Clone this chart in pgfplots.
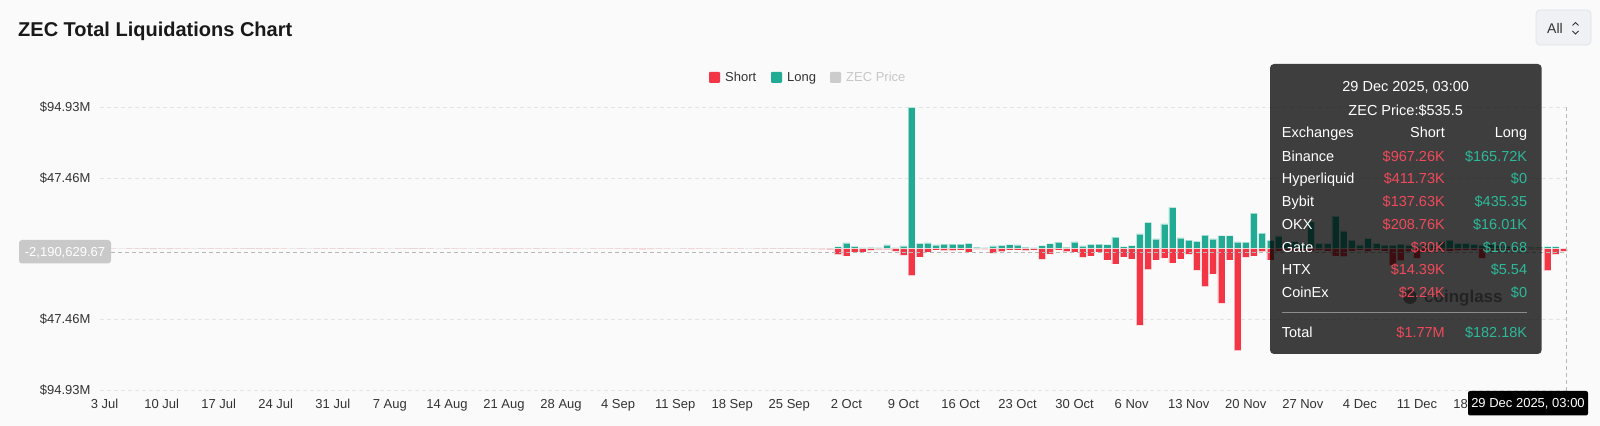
\documentclass[border=0pt]{standalone}
\usepackage{fontspec}
\setmainfont{Liberation Sans}
\usepackage{pgfplots}
\usepackage{pgfplotstable}
\pgfplotsset{compat=1.18}
\definecolor{bg}{HTML}{FAFAFA}
\definecolor{redc}{HTML}{F23645}
\definecolor{tealc}{HTML}{22AB94}
\definecolor{gridc}{HTML}{E4E4E4}
\definecolor{labc}{HTML}{333333}
\definecolor{cross}{HTML}{B8B8B8}
\definecolor{ttred}{HTML}{F04A5A}
\definecolor{ttgreen}{HTML}{2DB99A}
\definecolor{wm}{HTML}{8C8C8C}
\definecolor{btn}{HTML}{EFF1F4}
\definecolor{btnb}{HTML}{E0E3E8}
\newcommand\fs[1]{\fontsize{#1bp}{#1bp}\selectfont}

\pgfplotstableread{
d L S
0 0.10 0.15
1 0.05 0.10
2 0.10 0.05
3 0.15 0.10
4 0.20 0.10
5 0.35 0.20
6 0.30 0.35
7 0.25 0.20
8 0.30 0.25
9 0.10 0.10
10 0.05 0.10
11 0.10 0.05
12 0.10 0.10
13 0.15 0.10
14 0.10 0.10
15 0.05 0.10
16 0.10 0.15
17 0.15 0.10
18 0.30 0.20
19 0.35 0.15
20 0.25 0.30
21 0.10 0.10
22 0.05 0.10
23 0.10 0.05
24 0.10 0.10
25 0.15 0.05
26 0.10 0.10
27 0.10 0.15
28 0.20 0.10
29 0.40 0.20
30 0.15 0.10
31 0.05 0.10
32 0.10 0.05
33 0.10 0.10
34 0.05 0.10
35 0.10 0.05
36 0.10 0.10
37 0.15 0.10
38 0.35 0.15
39 0.30 0.20
40 0.10 0.10
41 0.10 0.05
42 0.30 0.15
43 0.10 0.10
44 0.05 0.10
45 0.10 0.05
46 0.10 0.10
47 0.05 0.15
48 0.10 0.20
49 0.15 0.40
50 0.10 0.35
51 0.10 0.10
52 0.05 0.10
53 0.30 0.15
54 0.10 0.10
55 0.05 0.10
56 0.10 0.05
57 0.10 0.10
58 0.05 0.10
59 0.10 0.05
60 0.10 0.10
61 0.05 0.10
62 0.10 0.10
63 0.10 0.15
64 0.15 0.30
65 0.10 0.25
66 0.10 0.45
67 0.15 0.30
68 0.10 0.10
69 0.05 0.10
70 0.10 0.05
71 0.10 0.15
72 0.15 0.35
73 0.10 0.10
74 0.05 0.10
75 0.10 0.05
76 0.10 0.10
77 0.05 0.10
78 0.10 0.10
79 0.10 0.05
80 0.15 0.10
81 0.40 0.15
82 0.35 0.10
83 0.30 0.15
84 0.35 0.10
85 0.10 0.10
86 0.10 0.15
87 0.15 0.25
88 0.20 0.50
89 0.30 0.60
90 1.3 4.0
91 3.8 4.9
92 1.6 2.2
93 0.7 2.2
94 0.9 1.1
95 0.45 0.7
96 2.5 0.7
97 0.7 1.8
98 1.8 4.5
99 94.93 18.2
100 3.6 5.6
101 3.8 2.2
102 2.5 0.9
103 3.1 1.3
104 3.1 1.3
105 3.1 0.9
106 3.6 2.2
107 1.1 0.45
108 0.7 0.45
109 1.8 3.1
110 2.2 2.0
111 2.7 0.9
112 2.5 0.9
113 1.1 1.3
114 0.7 0.9
115 2.0 7.2
116 3.4 3.6
117 4.3 0.9
118 1.1 2.0
119 4.5 2.2
120 1.8 5.8
121 2.9 4.9
122 3.1 2.2
123 2.7 7.6
124 7.8 10.3
125 1.3 5.6
126 2.0 6.9
127 9.9 51.5
128 17.7 14.1
129 6.5 7.6
130 16.6 6.3
131 27.8 9.6
132 7.2 6.9
133 5.8 3.8
134 4.9 14.6
135 9.0 25.5
136 6.5 17.0
137 8.7 36.7
138 8.7 7.6
139 4.5 68.5
140 4.3 5.8
141 23.8 4.9
142 10.4 2.0
143 5.5 7.6
144 8.5 1.5
145 4.7 1.0
146 4.7 1.5
147 3.6 1.2
148 18.1 2.0
149 3.6 1.0
150 3.6 1.5
151 21.9 4.9
152 12.0 5.4
153 5.8 1.5
154 2.5 1.0
155 6.9 2.0
156 3.6 1.0
157 2.3 1.5
158 2.3 11.0
159 3.1 8.0
160 2.5 2.0
161 1.3 6.5
162 2.9 1.5
163 2.5 1.0
164 4.7 1.2
165 5.8 1.5
166 3.6 1.3
167 3.6 1.0
168 2.9 1.2
169 2.5 6.5
170 2.9 1.0
171 2.2 1.3
172 1.8 1.0
173 1.5 1.2
174 1.3 0.8
175 1.0 0.7
176 1.0 0.7
177 1.3 14.8
178 1.3 3.8
179 0.18 1.77
}\data

\begin{document}
\begin{tikzpicture}
\useasboundingbox (0,0) rectangle (1600bp,426bp);
\fill[bg] (0,0) rectangle (1600bp,426bp);
\begin{scope}[x=1bp,y=-1bp,yshift=426bp]
  \fill[wm] (1410,297) circle (7);
  \node[font=\fs{17}\bfseries, text=wm, anchor=base west, inner sep=0pt] at (1424,303) {coinglass};
\end{scope}
\begin{axis}[
  at={(100bp,36bp)}, anchor=south west,
  width=1467bp, height=282.7bp, scale only axis,
  xmin=-0.56, xmax=179.4, ymin=-94.93, ymax=94.93,
  axis line style={draw=none},
  tick style={draw=none}, major tick length=0pt,
  ymajorgrids,
  grid style={dash pattern=on 4bp off 3bp, color=gridc, line width=0.8bp},
  ytick={-94.93,-47.46,0,47.46,94.93},
  yticklabels={\$94.93M,\$47.46M,\$0,\$47.46M,\$94.93M},
  xtick={0,7,...,168},
  xticklabels={3 Jul,10 Jul,17 Jul,24 Jul,31 Jul,7 Aug,14 Aug,21 Aug,28 Aug,4 Sep,11 Sep,18 Sep,25 Sep,2 Oct,9 Oct,16 Oct,23 Oct,30 Oct,6 Nov,13 Nov,20 Nov,27 Nov,4 Dec,11 Dec,18 Dec},
  ticklabel style={font=\fs{13}, text=labc},
  yticklabel style={anchor=base east, inner sep=0pt, xshift=-9.3bp, yshift=-4.6bp},
  xticklabel style={anchor=base, inner sep=0pt, yshift=-18bp},
  ybar, bar width=0.86, bar shift=0pt,
]
\addplot[fill=tealc, draw=white, draw opacity=0.55, line width=0.5bp] table[x=d, y=L]{\data};
\addplot[fill=redc, draw=white, draw opacity=0.55, line width=0.5bp] table[x=d, y expr=-\thisrow{S}]{\data};
\end{axis}
\begin{scope}[x=1bp,y=-1bp,yshift=426bp]
  % title
  \node[font=\fs{20}\bfseries, text=black!90, anchor=base west, inner sep=0pt] at (18,37) {ZEC Total Liquidations Chart};
  % All button
  \draw[btnb, fill=btn, rounded corners=4bp, line width=0.8bp] (1536,10) rectangle (1591,45);
  \node[font=\fs{14}, text=labc, anchor=base west, inner sep=0pt] at (1547,33.3) {All};
  \draw[labc, line width=0.9bp] (1572.5,25.5) -- (1575.5,22.5) -- (1578.5,25.5);
  \draw[labc, line width=0.9bp] (1572.5,31) -- (1575.5,34) -- (1578.5,31);
  % legend
  \fill[redc, rounded corners=1bp] (709,72) rectangle (720,83);
  \node[font=\fs{13}, text=labc, anchor=base west, inner sep=0pt] at (725,81.7) {Short};
  \fill[tealc, rounded corners=1bp] (771,72) rectangle (782,83);
  \node[font=\fs{13}, text=labc, anchor=base west, inner sep=0pt] at (787,81.7) {Long};
  \fill[black!20, rounded corners=1bp] (830,72) rectangle (841,83);
  \node[font=\fs{13}, text=black!22, anchor=base west, inner sep=0pt] at (846,81.7) {ZEC Price};
  % crosshair
  \draw[cross, dash pattern=on 4bp off 3bp, line width=0.9bp] (111,252) -- (1567,252);
  \draw[cross, dash pattern=on 4bp off 3bp, line width=0.9bp] (1566.7,107) -- (1566.7,391);
  \fill[black!21, rounded corners=3bp] (19,240) rectangle (111,263.5);
  \node[font=\fs{13}, text=white, anchor=base, inner sep=0pt] at (65,256.6) {-2,190,629.67};
  \fill[black, rounded corners=2bp] (1468,391) rectangle (1588,415.5);
  \node[font=\fs{13}, text=white, anchor=base, inner sep=0pt] at (1528,408) {29 Dec 2025, 03:00};
  % tooltip
  \fill[black, opacity=0.75, rounded corners=4bp] (1270,64) rectangle (1541.7,354);
  \begin{scope}[every node/.style={font=\fs{14.5}, inner sep=0pt}]
    \node[text=white, anchor=base] at (1405.7,91.9) {29 Dec 2025, 03:00};
    \node[text=white, anchor=base] at (1405.7,115.9) {ZEC Price:\$535.5};
    \node[text=white, anchor=base west] at (1281.7,137.9) {Exchanges};
    \node[text=white, anchor=base east] at (1445,137.9) {Short};
    \node[text=white, anchor=base east] at (1527.3,137.9) {Long};
    \node[text=white, anchor=base west] at (1281.7,161.2) {Binance};
    \node[text=ttred, anchor=base east] at (1445,161.2) {\$967.26K};
    \node[text=ttgreen, anchor=base east] at (1527.3,161.2) {\$165.72K};
    \node[text=white, anchor=base west] at (1281.7,183.5) {Hyperliquid};
    \node[text=ttred, anchor=base east] at (1445,183.5) {\$411.73K};
    \node[text=ttgreen, anchor=base east] at (1527.3,183.5) {\$0};
    \node[text=white, anchor=base west] at (1281.7,206.5) {Bybit};
    \node[text=ttred, anchor=base east] at (1445,206.5) {\$137.63K};
    \node[text=ttgreen, anchor=base east] at (1527.3,206.5) {\$435.35};
    \node[text=white, anchor=base west] at (1281.7,229.2) {OKX};
    \node[text=ttred, anchor=base east] at (1445,229.2) {\$208.76K};
    \node[text=ttgreen, anchor=base east] at (1527.3,229.2) {\$16.01K};
    \node[text=white, anchor=base west] at (1281.7,252.2) {Gate};
    \node[text=ttred, anchor=base east] at (1445,252.2) {\$30K};
    \node[text=ttgreen, anchor=base east] at (1527.3,252.2) {\$10.68};
    \node[text=white, anchor=base west] at (1281.7,274.9) {HTX};
    \node[text=ttred, anchor=base east] at (1445,274.9) {\$14.39K};
    \node[text=ttgreen, anchor=base east] at (1527.3,274.9) {\$5.54};
    \node[text=white, anchor=base west] at (1281.7,297.5) {CoinEx};
    \node[text=ttred, anchor=base east] at (1445,297.5) {\$2.24K};
    \node[text=ttgreen, anchor=base east] at (1527.3,297.5) {\$0};
    \draw[black!45, line width=1.2bp] (1281.7,312.3) -- (1527.3,312.3);
    \node[text=white, anchor=base west] at (1281.7,337.5) {Total};
    \node[text=ttred, anchor=base east] at (1445,337.5) {\$1.77M};
    \node[text=ttgreen, anchor=base east] at (1527.3,337.5) {\$182.18K};
  \end{scope}
\end{scope}
\end{tikzpicture}
\end{document}
